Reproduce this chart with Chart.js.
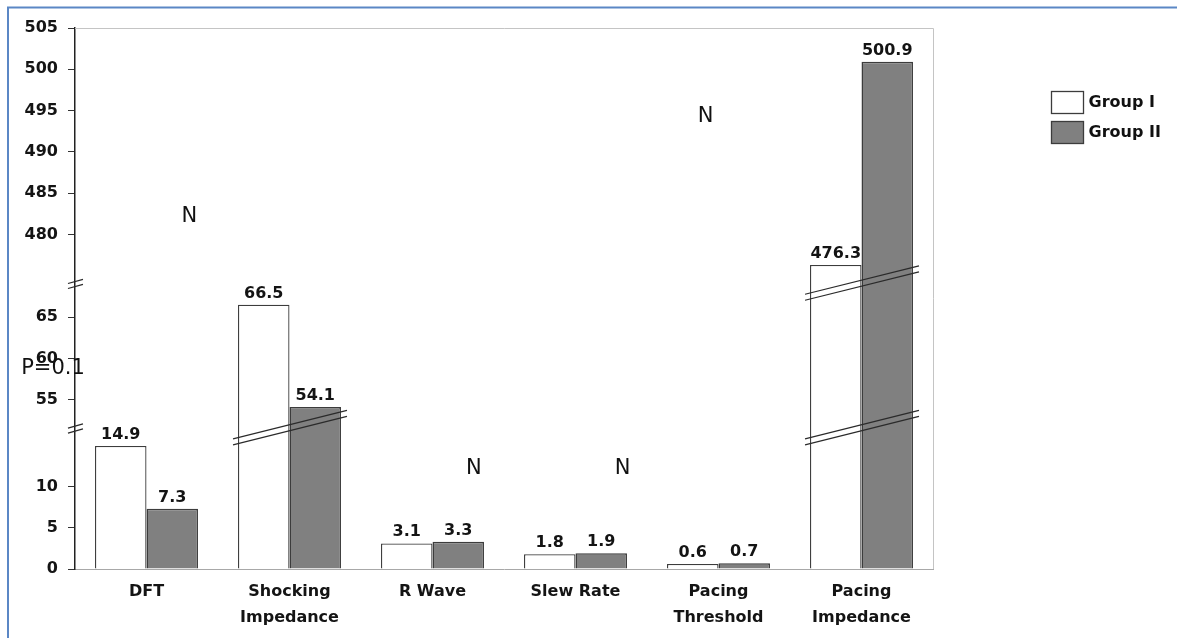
<!DOCTYPE html>
<html>
<head>
<meta charset="utf-8">
<script src="https://cdn.jsdelivr.net/npm/chart.js@4.4.1/dist/chart.umd.min.js"></script>
<style>
html,body{margin:0;padding:0;background:#fff;}
#wrap{position:relative;width:1177px;height:638px;}
canvas{display:block;}
</style>
</head>
<body>
<div id="wrap"><canvas id="c" width="1177" height="638"></canvas></div>
<script>
// ---- data ----
const categories = [['DFT'], ['Shocking', 'Impedance'], ['R Wave'], ['Slew Rate'], ['Pacing', 'Threshold'], ['Pacing', 'Impedance']];
const seriesNames = ['Group I', 'Group II'];
const groupI = [14.9, 66.5, 3.1, 1.8, 0.6, 476.3];
const groupII = [7.3, 54.1, 3.3, 1.9, 0.7, 500.9];
const yTickValues = [0, 5, 10, 55, 60, 65, 480, 485, 490, 495, 500, 505];
// visible value ranges of the broken y axis (bottom to top)
const axisSegments = [[0, 17], [51.5, 69], [474, 505]];
// stray text annotations: x in category units, y in data units
const annotations = [
  { text: 'N', x: 0.30, y: 482.2 },
  { text: 'N', x: 2.29, y: 12.2 },
  { text: 'N', x: 3.33, y: 12.2 },
  { text: 'N', x: 3.91, y: 494.3 },
  { text: 'P=0.1', x: -0.654, y: 58.8 }
];

// ---- broken linear scale ----
const displayTotal = axisSegments.reduce((s, [a, b]) => s + (b - a), 0);
function toDisplay(v) {
  let acc = 0;
  for (const [a, b] of axisSegments) {
    if (v <= b) return acc + Math.max(0, v - a);
    acc += b - a;
  }
  return acc + (v - axisSegments[axisSegments.length - 1][1]);
}
function fromDisplay(d) {
  let acc = 0;
  for (const [a, b] of axisSegments) {
    if (d <= acc + (b - a)) return a + (d - acc);
    acc += b - a;
  }
  const last = axisSegments[axisSegments.length - 1];
  return last[1] + (d - acc);
}
class BrokenScale extends Chart.LinearScale {
  determineDataLimits() { this.min = 0; this.max = displayTotal; }
  buildTicks() { return yTickValues.map(v => ({ value: v })); }
  getPixelForValue(v) {
    if (v === null || v === undefined || isNaN(v)) return NaN;
    return this.getPixelForDecimal(toDisplay(v) / displayTotal);
  }
  getValueForPixel(p) { return fromDisplay(this.getDecimalForPixel(p) * displayTotal); }
}
BrokenScale.id = 'broken';
BrokenScale.defaults = {};
Chart.register(BrokenScale);

const FONT = 'DejaVu Sans';

const decor = {
  id: 'decor',
  beforeDraw(chart) {
    const ctx = chart.ctx;
    ctx.save();
    ctx.fillStyle = '#fff';
    ctx.fillRect(0, 0, chart.width, chart.height);
    ctx.strokeStyle = '#5b87c5';
    ctx.lineWidth = 2;
    ctx.beginPath();
    ctx.moveTo(8, chart.height);
    ctx.lineTo(8, 7.5);
    ctx.lineTo(chart.width, 7.5);
    ctx.stroke();
    ctx.restore();
  },
  beforeDatasetsDraw(chart) {
    const ctx = chart.ctx;
    const { left, right, top, bottom } = chart.chartArea;
    ctx.save();
    ctx.strokeStyle = '#c4c4c4';
    ctx.lineWidth = 1;
    ctx.beginPath();
    ctx.moveTo(left, Math.round(top) + 0.5);
    ctx.lineTo(Math.round(right) + 0.5, Math.round(top) + 0.5);
    ctx.lineTo(Math.round(right) + 0.5, bottom);
    ctx.stroke();
    ctx.restore();
  },
  afterDatasetsDraw(chart) {
    const ctx = chart.ctx;
    const yScale = chart.scales.y;
    ctx.save();
    // value labels
    ctx.fillStyle = '#141414';
    ctx.font = 'bold 16px "' + FONT + '"';
    ctx.textAlign = 'center';
    ctx.textBaseline = 'alphabetic';
    chart.data.datasets.forEach((ds, d) => {
      const meta = chart.getDatasetMeta(d);
      meta.data.forEach((bar, i) => {
        ctx.fillText(ds.data[i].toFixed(1), bar.x, bar.y - 7);
      });
    });
    // break lines across bars
    ctx.strokeStyle = '#2a2a2a';
    ctx.lineWidth = 1.2;
    const m0 = chart.getDatasetMeta(0), m1 = chart.getDatasetMeta(1);
    categories.forEach((c, i) => {
      const maxV = Math.max(groupI[i], groupII[i]);
      for (let k = 0; k < axisSegments.length - 1; k++) {
        if (maxV > axisSegments[k][1]) {
          const py = yScale.getPixelForValue(axisSegments[k][1]) - 1;
          const b0 = m0.data[i], b1 = m1.data[i];
          const x1 = b0.x - b0.width / 2 - 5;
          const x2 = b1.x + b1.width / 2 + 6;
          const xc = (x1 + x2) / 2;
          [-3, 3].forEach(off => {
            ctx.beginPath();
            ctx.moveTo(x1, py + off + 0.25 * (xc - x1));
            ctx.lineTo(x2, py + off - 0.25 * (x2 - xc));
            ctx.stroke();
          });
        }
      }
    });
    ctx.restore();
  },
  afterDraw(chart) {
    const ctx = chart.ctx;
    const xScale = chart.scales.x, yScale = chart.scales.y;
    const left = chart.chartArea.left;
    ctx.save();
    // axis break slashes
    ctx.strokeStyle = '#2a2a2a';
    ctx.lineWidth = 1.2;
    for (let k = 0; k < axisSegments.length - 1; k++) {
      const py = yScale.getPixelForValue(axisSegments[k][1]);
      [-2.5, 2.5].forEach(off => {
        ctx.beginPath();
        ctx.moveTo(left - 7, py + off + 2);
        ctx.lineTo(left + 8, py + off - 2.2);
        ctx.stroke();
      });
    }
    // annotations
    ctx.fillStyle = '#111';
    ctx.font = '21px "' + FONT + '"';
    ctx.textAlign = 'center';
    ctx.textBaseline = 'middle';
    annotations.forEach(a => {
      ctx.fillText(a.text, xScale.getPixelForValue(a.x), yScale.getPixelForValue(a.y));
    });
    // legend
    ctx.font = 'bold 16px "' + FONT + '"';
    ctx.textAlign = 'left';
    chart.data.datasets.forEach((ds, d) => {
      const bx = 1051.5, by = 91.5 + d * 30;
      ctx.fillStyle = ds.backgroundColor;
      ctx.fillRect(bx, by, 32, 22);
      ctx.strokeStyle = ds.borderColor;
      ctx.lineWidth = 1.3;
      ctx.strokeRect(bx, by, 32, 22);
      ctx.fillStyle = '#111';
      ctx.fillText(ds.label, bx + 37, by + 11.5);
    });
    ctx.restore();
  }
};

new Chart(document.getElementById('c'), {
  type: 'bar',
  data: {
    labels: categories,
    datasets: [
      { label: seriesNames[0], data: groupI, backgroundColor: '#ffffff', borderColor: '#3c3c3c', borderWidth: 1.3 },
      { label: seriesNames[1], data: groupII, backgroundColor: '#808080', borderColor: '#3c3c3c', borderWidth: 1.5 }
    ]
  },
  options: {
    responsive: false,
    animation: false,
    devicePixelRatio: 1,
    layout: { padding: { left: 0, top: 28, right: 244, bottom: 0 } },
    datasets: { bar: { categoryPercentage: 0.72, barPercentage: 1.0 } },
    plugins: { legend: { display: false }, tooltip: { enabled: false } },
    scales: {
      x: {
        type: 'category',
        offset: true,
        grid: { display: false, drawTicks: false },
        border: { display: true, color: '#a8a8a8', width: 1 },
        ticks: { padding: 10, color: '#141414', autoSkip: false, maxRotation: 0,
                 font: { family: FONT, weight: 'bold', size: 16, lineHeight: 1.62 } },
        afterFit: s => { s.height = 69; }
      },
      y: {
        type: 'broken',
        position: 'left',
        grid: { display: true, drawOnChartArea: false, drawTicks: true, tickLength: 7, color: '#333', lineWidth: 1 },
        border: { display: true, color: '#222', width: 1.5 },
        ticks: { autoSkip: false, padding: 10, color: '#141414',
                 font: { family: FONT, weight: 'bold', size: 16 },
                 callback: v => String(v) },
        afterFit: s => { s.width = 75; }
      }
    }
  },
  plugins: [decor]
});
</script>
</body>
</html>
